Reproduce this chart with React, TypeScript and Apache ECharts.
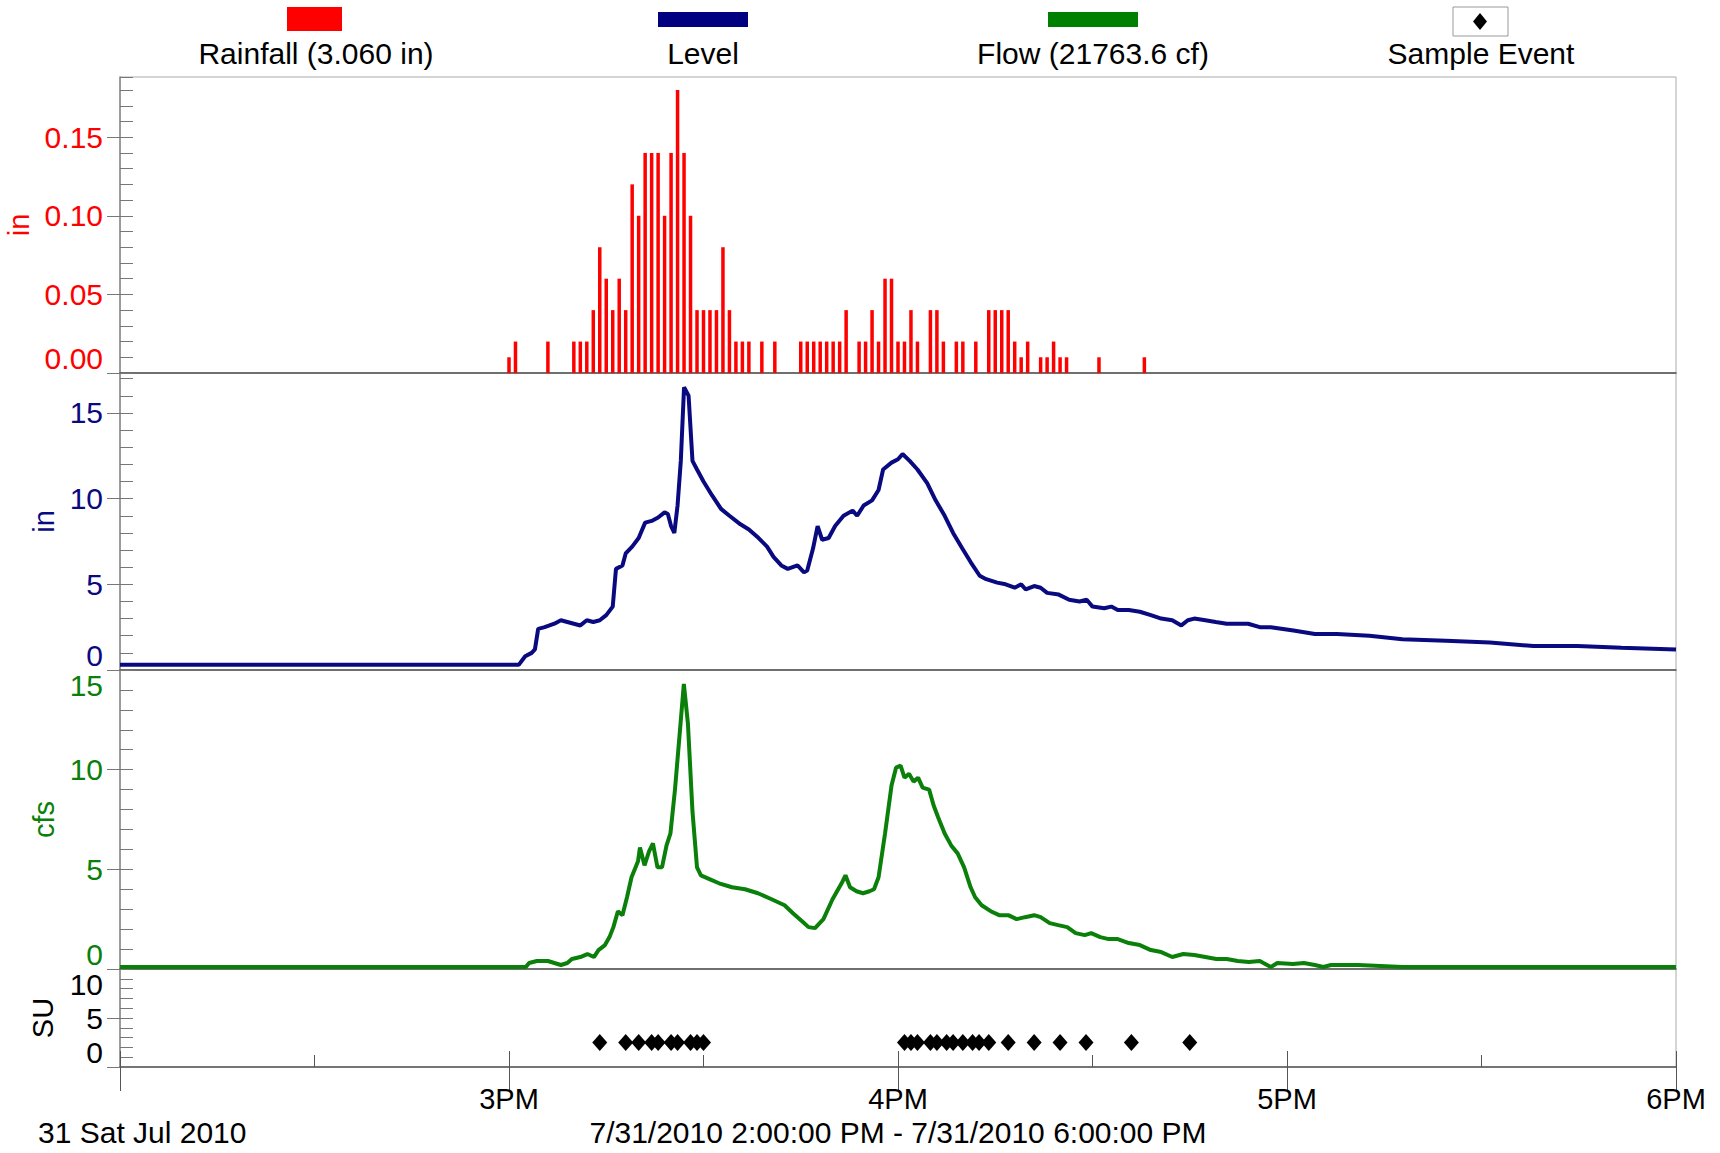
import React, { useEffect, useRef } from "react";
import * as echarts from "echarts";

const FONT = "'Liberation Sans', Arial, Helvetica, sans-serif";

// x positions are minutes after 7/31/2010 2:00 PM
const hourLabels: Record<number, string> = { 60: "3PM", 120: "4PM", 180: "5PM", 240: "6PM" };

// Rainfall (in) per minute
const rainMinutes = [
  60, 61, 66,
  70, 71, 72, 73, 74, 75, 76, 77, 78, 79, 80, 81, 82, 83, 84, 85, 86, 87, 88, 89, 90, 91, 92, 93, 94, 95, 96, 97,
  99, 101,
  105, 106, 107, 108, 109, 110, 111, 112,
  114, 115, 116, 117, 118, 119, 120, 121, 122, 123,
  125, 126, 127, 129, 130, 132,
  134, 135, 136, 137, 138, 139, 140,
  142, 143, 144, 145, 146, 151, 158,
];
const rainValues = [
  0.01, 0.02, 0.02,
  0.02, 0.02, 0.02, 0.04, 0.08, 0.06, 0.04, 0.06, 0.04, 0.12, 0.10, 0.14, 0.14, 0.14, 0.10, 0.14, 0.18, 0.14, 0.10, 0.04, 0.04, 0.04, 0.04, 0.08, 0.04, 0.02, 0.02, 0.02,
  0.02, 0.02,
  0.02, 0.02, 0.02, 0.02, 0.02, 0.02, 0.02, 0.04,
  0.02, 0.02, 0.04, 0.02, 0.06, 0.06, 0.02, 0.02, 0.04, 0.02,
  0.04, 0.04, 0.02, 0.02, 0.02, 0.02,
  0.04, 0.04, 0.04, 0.04, 0.02, 0.01, 0.02,
  0.01, 0.01, 0.02, 0.01, 0.01, 0.01, 0.01,
];

// Level (in)
const levelMinutes = [
  0, 61.5, 62.5, 63.5, 64, 64.5, 65.5, 67, 68, 69, 70, 71, 72, 73, 74, 75, 76, 76.5, 77.5, 78, 79, 80, 81, 82, 83, 84,
  84.5, 85, 85.5, 86, 86.5, 87, 87.7, 88.3, 89, 90, 91.3, 92.7, 94, 95.7, 97, 98.5, 99.8, 100.8, 102, 103, 104.5,
  105.5, 106, 106.9, 107.6, 108.3, 109.3, 110.3, 111.6, 113, 113.7, 114.7, 116, 117, 117.7, 119, 120, 120.7, 121.8,
  123, 124.5, 125.8, 127.2, 128.5, 129.9, 131.2, 132.6, 133.6, 135.3, 136.6, 138, 139, 139.7, 141, 142, 143, 144.8,
  146.4, 148, 149.1, 150, 151.8, 152.9, 153.9, 155.6, 157.3, 159, 160.6, 162.3, 163.7, 164.7, 165.7, 167.4, 169,
  170.7, 174, 175.8, 177.5, 181, 184.3, 187.7, 192.7, 197.8, 204.5, 211.3, 218, 224.8, 231.6, 240,
];
const levelValues = [
  0.3, 0.3, 0.8, 1.0, 1.2, 2.4, 2.5, 2.7, 2.9, 2.8, 2.7, 2.6, 2.9, 2.8, 2.9, 3.2, 3.7, 5.9, 6.1, 6.8, 7.2, 7.7, 8.6, 8.7, 8.9, 9.2,
  9.1, 8.4, 8.0, 9.6, 12.2, 16.5, 16.0, 12.2, 11.7, 11.0, 10.2, 9.4, 9.0, 8.5, 8.2, 7.7, 7.2, 6.6, 6.1, 5.9, 6.1,
  5.7, 5.8, 7.1, 8.4, 7.6, 7.7, 8.4, 9.0, 9.3, 9.0, 9.6, 9.9, 10.5, 11.7, 12.1, 12.3, 12.6, 12.2,
  11.7, 10.9, 9.9, 9.0, 8.0, 7.1, 6.3, 5.5, 5.3, 5.1, 5.0, 4.8, 5.0, 4.7, 4.9, 4.8, 4.5, 4.4,
  4.1, 4.0, 4.1, 3.7, 3.6, 3.7, 3.5, 3.5, 3.4, 3.2, 3.0, 2.9, 2.6, 2.9, 3.0, 2.9, 2.8,
  2.7, 2.7, 2.5, 2.5, 2.3, 2.1, 2.1, 2.0, 1.8, 1.7, 1.6, 1.4, 1.4, 1.3, 1.2,
];

// Flow (cfs)
const flowMinutes = [
  0, 62.6, 63.1, 64.3, 66, 67, 68, 69, 69.7, 71, 72.1, 73.1, 73.8, 74.8, 75.5, 76.1, 76.8, 77.5, 78.2, 78.9, 79.9,
  80.2, 80.9, 81.6, 82.2, 82.9, 83.6, 84.3, 84.9, 85.6, 86.3, 86.97, 87.6, 88.3, 89, 89.6, 91, 92.4, 94.4, 96.4,
  98.4, 100.5, 102.5, 103.8, 105.2, 106.2, 107.2, 108.5, 109.9, 111.3, 111.9, 112.6, 113.6, 114.6, 115.6, 116.3,
  117, 118, 119, 119.7, 120.4, 121, 121.7, 122.4, 123.1, 123.8, 124.8, 125.5, 126.2, 127.2, 128.2, 129.2, 130.2,
  131.2, 131.9, 132.9, 134.3, 135.6, 137, 138.3, 139.6, 141, 142, 143.4, 144.7, 146.1, 147.4, 148.8, 149.8, 151.2,
  152.5, 153.9, 155.6, 157.3, 159, 160.6, 162.3, 164, 165.7, 167.4, 169.1, 170.7, 172.4, 174.1, 175.8, 177.5, 178.5,
  180.9, 182.6, 184.3, 185.6, 186.8, 191, 194.4, 197.8, 240,
];
const flowValues = [
  0.1, 0.1, 0.3, 0.4, 0.4, 0.3, 0.2, 0.3, 0.5, 0.6, 0.75, 0.6, 0.95, 1.2, 1.6, 2.1, 2.9, 2.7, 3.6, 4.6, 5.4,
  6.1, 5.2, 5.9, 6.3, 5.1, 5.1, 6.2, 6.8, 9.0, 11.7, 14.3, 12.3, 7.9, 5.1, 4.7, 4.5, 4.3, 4.1, 4.0,
  3.8, 3.5, 3.2, 2.8, 2.4, 2.1, 2.05, 2.5, 3.5, 4.3, 4.7, 4.1, 3.9, 3.8, 3.9, 4.0,
  4.6, 6.8, 9.2, 10.1, 10.2, 9.6, 9.8, 9.4, 9.6, 9.1, 9.0, 8.2, 7.6, 6.8, 6.2, 5.8, 5.1,
  4.1, 3.6, 3.2, 2.9, 2.7, 2.7, 2.5, 2.6, 2.7, 2.6, 2.3, 2.2, 2.1, 1.8, 1.7, 1.8, 1.6,
  1.5, 1.5, 1.3, 1.2, 0.95, 0.85, 0.6, 0.75, 0.7, 0.6, 0.5, 0.5, 0.4, 0.35, 0.4, 0.1, 0.3,
  0.25, 0.3, 0.2, 0.1, 0.2, 0.2, 0.15, 0.1, 0.1,
];

// Sample events (SU)
const sampleMinutes = [
  74, 78, 80, 82, 83, 85, 86, 88, 89, 90,
  121, 122, 123, 125, 126, 127.5, 128.5, 130, 131.5, 132.5, 134, 137, 141, 145, 149, 156, 165,
];
const sampleLevel = 2.5;

const legendNames = ["Rainfall (3.060 in)", "Level", "Flow (21763.6 cf)", "Sample Event"];
const footerLeft = "31 Sat Jul 2010";
const footerCenter = "7/31/2010 2:00:00 PM - 7/31/2010 6:00:00 PM";

const RED = "#ff0000";
const NAVY = "#0a0a80";
const GREEN = "#0a800a";

const L = 120;
const R = 44;
const grids = [
  { left: L, right: R, top: 77, height: 296 },
  { left: L, right: R, top: 373, height: 297 },
  { left: L, right: R, top: 670, height: 299 },
  { left: L, right: R, top: 969, height: 98 },
];

function pairs(xs: number[], ys: number[]) {
  return xs.map((x, i) => [x, ys[i]]);
}

export default function App() {
  const ref = useRef<HTMLDivElement>(null);
  useEffect(() => {
    if (!ref.current) return;
    const chart = echarts.init(ref.current, undefined, { renderer: "svg" });
    const labelBase = { fontFamily: FONT, fontSize: 30 };

    const xAxes: any[] = grids.map((_, i) => ({
      type: "value",
      gridIndex: i,
      min: 0,
      max: 240,
      interval: 60,
      position: "bottom",
      axisLine: { show: true, lineStyle: { color: "#555", width: 1.5 } },
      axisTick: i === 3 ? { show: true, inside: false, length: 24, lineStyle: { color: "#555" } } : { show: false },
      axisLabel:
        i === 3
          ? {
              show: true,
              margin: 17,
              color: "#000",
              fontFamily: FONT,
              fontSize: 29,
              formatter: (v: number) => hourLabels[v] || "",
            }
          : { show: false },
      splitLine: { show: false },
    }));
    // inner ticks for bottom axis
    xAxes.push({
      type: "value",
      gridIndex: 3,
      min: 0,
      max: 240,
      interval: 60,
      position: "bottom",
      axisLine: { show: false },
      axisTick: { show: true, inside: true, length: 16, lineStyle: { color: "#555" } },
      minorTick: { show: true, splitNumber: 2, length: 12, lineStyle: { color: "#555" } },
      axisLabel: { show: false },
      splitLine: { show: false },
    });

    const yDefs = [
      { min: 0, max: 0.1883, interval: 0.05, minor: 0.01, color: RED, name: "in", gap: 80, fmt: (v: number) => v.toFixed(2), hideMax: true },
      { min: 0, max: 17.33, interval: 5, minor: 1, color: NAVY, name: "in", gap: 60, fmt: (v: number) => String(v), hideMax: true },
      { min: 0, max: 15, interval: 5, minor: 1, color: GREEN, name: "cfs", gap: 60, fmt: (v: number) => String(v), hideMax: false },
      { min: 0, max: 10, interval: 5, minor: 1, color: "#000", name: "SU", gap: 63, fmt: (v: number) => String(v), hideMax: false },
    ];
    const yAxes: any[] = [];
    yDefs.forEach((d, i) => {
      yAxes.push({
        type: "value",
        gridIndex: i,
        position: "left",
        min: d.min,
        max: d.max,
        interval: d.interval,
        name: d.name,
        nameLocation: "middle",
        nameRotate: 90,
        nameGap: d.gap,
        nameTextStyle: { color: d.color, fontFamily: FONT, fontSize: 29 },
        axisLine: { show: true, lineStyle: { color: "#888", width: 1.5 } },
        axisTick: { show: true, inside: false, length: 13, lineStyle: { color: "#777" } },
        axisLabel: {
          ...labelBase,
          color: d.color,
          margin: 17,
          showMaxLabel: !d.hideMax,
          verticalAlignMinLabel: "bottom",
          verticalAlignMaxLabel: "top",
          formatter: d.fmt,
        },
        splitLine: { show: false },
      });
    });
    yDefs.forEach((d, i) => {
      yAxes.push({
        type: "value",
        gridIndex: i,
        position: "left",
        min: d.min,
        max: d.max,
        interval: d.minor,
        axisLine: { show: false },
        axisTick: { show: true, inside: true, length: 13, lineStyle: { color: "#777" } },
        axisLabel: { show: false },
        splitLine: { show: false },
      });
    });

    const legendY = 53;
    const textFont = `30px ${FONT}`;
    const graphic: any[] = [
      { type: "rect", shape: { x: 287, y: 7, width: 55, height: 24 }, style: { fill: RED } },
      { type: "rect", shape: { x: 658, y: 12, width: 90, height: 15 }, style: { fill: "#000080" } },
      { type: "rect", shape: { x: 1048, y: 12, width: 90, height: 15 }, style: { fill: "#008000" } },
      { type: "rect", shape: { x: 1453, y: 7, width: 55, height: 29 }, style: { fill: "#fff", stroke: "#999", lineWidth: 1 } },
      {
        type: "polygon",
        shape: { points: [[1480, 13], [1487, 21.5], [1480, 30], [1473, 21.5]] },
        style: { fill: "#000" },
      },
      ...[316, 703, 1093, 1481].map((cx, i) => ({
        type: "text",
        x: cx,
        y: legendY,
        style: {
          text: legendNames[i],
          fill: "#000",
          font: textFont,
          align: "center",
          verticalAlign: "middle",
        },
      })),
      {
        type: "text",
        x: 38,
        y: 1132,
        style: { text: footerLeft, fill: "#000", font: textFont, align: "left", verticalAlign: "middle" },
      },
      {
        type: "text",
        x: 898,
        y: 1132,
        style: { text: footerCenter, fill: "#000", font: textFont, align: "center", verticalAlign: "middle" },
      },
    ];

    chart.setOption({
      animation: false,
      backgroundColor: "#fff",
      grid: grids.map((g) => ({
        ...g,
        containLabel: false,
        outerBoundsMode: "none",
        show: true,
        borderColor: "#aaa",
        borderWidth: 1,
        backgroundColor: "transparent",
      })),
      xAxis: xAxes,
      yAxis: yAxes,
      graphic,
      series: [
        {
          name: legendNames[0],
          type: "bar",
          xAxisIndex: 0,
          yAxisIndex: 0,
          barWidth: 3.5,
          itemStyle: { color: RED },
          data: pairs(rainMinutes, rainValues),
        },
        {
          name: legendNames[1],
          type: "line",
          xAxisIndex: 1,
          yAxisIndex: 1,
          showSymbol: false,
          symbol: "none",
          lineStyle: { color: NAVY, width: 4 },
          data: pairs(levelMinutes, levelValues),
        },
        {
          name: legendNames[2],
          type: "line",
          xAxisIndex: 2,
          yAxisIndex: 2,
          showSymbol: false,
          symbol: "none",
          lineStyle: { color: GREEN, width: 4 },
          data: pairs(flowMinutes, flowValues),
        },
        {
          name: legendNames[3],
          type: "scatter",
          xAxisIndex: 3,
          yAxisIndex: 3,
          symbol: "diamond",
          symbolSize: [15, 17],
          itemStyle: { color: "#000", opacity: 1 },
          data: sampleMinutes.map((m) => [m, sampleLevel]),
        },
      ],
    });
    return () => chart.dispose();
  }, []);
  return (
    <div
      ref={ref}
      style={{ position: "absolute", left: 0, top: 0, width: 1720, height: 1153, background: "#fff" }}
    />
  );
}
